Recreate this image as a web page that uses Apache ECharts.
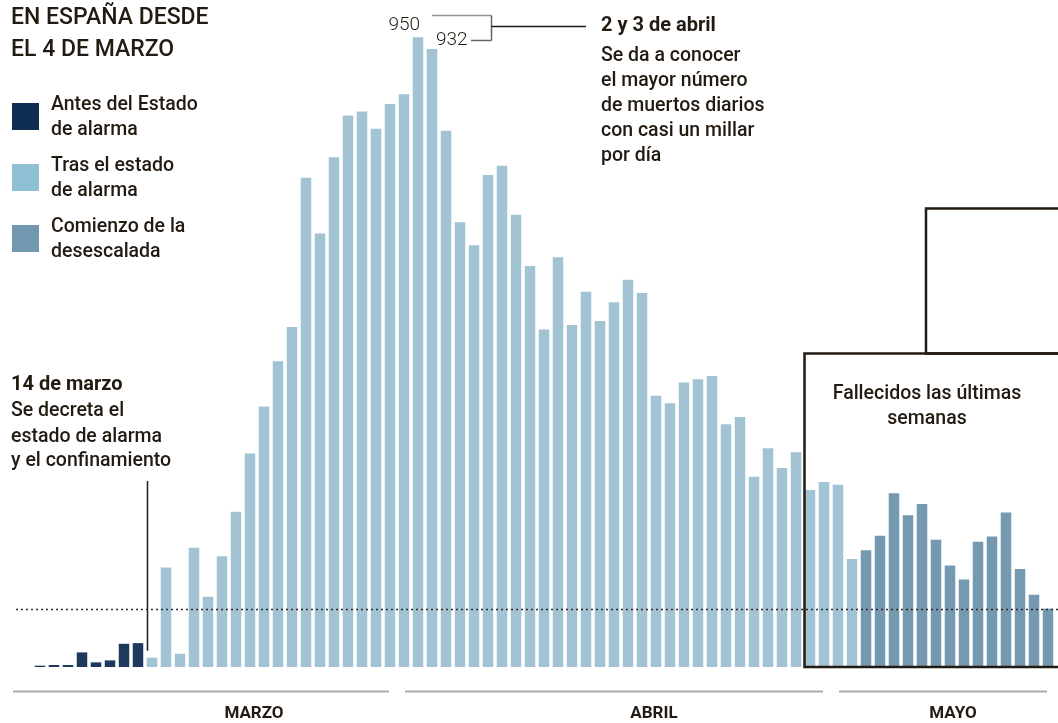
<!DOCTYPE html>
<html>
<head>
<meta charset="utf-8">
<script src="https://cdn.jsdelivr.net/npm/echarts@6/dist/echarts.min.js"></script>
<style>
html,body{margin:0;padding:0;background:#ffffff;}
#chart{width:1058px;height:723px;}
</style>
</head>
<body>
<div id="chart"></div>
<script>
// ---- DATA ----
const marchDays = [6,7,8,9,10,11,12,13,14,15,16,17,18,19,20,21,22,23,24,25,26,27,28,29,30,31];
const aprilDays = [1,2,3,4,5,6,7,8,9,10,11,12,13,14,15,16,17,18,19,20,21,22,23,24,25,26,27,28,29,30];
const mayDays = [1,2,3,4,5,6,7,8,9,10,11,12,13,14,15,16,17];

const deathsMarch = [2,3,3,22,7,10,35,36,14,150,20,180,106,167,234,322,393,461,513,738,654,769,832,838,812,849];
const deathsApril = [864,950,932,809,671,636,742,756,682,605,509,618,516,566,522,550,584,564,409,398,429,434,439,366,377,287,330,300,324,267];
const deathsMay = [279,275,163,176,198,262,229,246,192,153,132,189,197,233,148,109,88];

const monthNames = ['MARZO','ABRIL','MAYO'];
const alarmStart = '14 mar';
const deescalationStart = '4 may';

// ---- BUILD ----
const categories = [].concat(
  marchDays.map(d => d + ' mar'),
  aprilDays.map(d => d + ' abr'),
  mayDays.map(d => d + ' may')
);
const values = [].concat(deathsMarch, deathsApril, deathsMay);
const monthRanges = [
  [0, marchDays.length - 1],
  [marchDays.length, marchDays.length + aprilDays.length],
  [marchDays.length + aprilDays.length + 1, categories.length - 1]
];

const COLOR_BEFORE = '#1d3a5c';
const COLOR_AFTER = '#a1c3d4';
const COLOR_DEESC = '#7499b0';
const INK = '#231a12';
const FONT = "Roboto, 'Liberation Sans', sans-serif";

const iAlarm = categories.indexOf(alarmStart);
const iDeesc = categories.indexOf(deescalationStart);
function colorFor(i) {
  if (i < iAlarm) return COLOR_BEFORE;
  if (i < iDeesc) return COLOR_AFTER;
  return COLOR_DEESC;
}

const chart = echarts.init(document.getElementById('chart'), null, {renderer: 'canvas'});
chart.setOption({
  animation: false,
  grid: {left: 33, right: 3, top: 4, bottom: 56},
  xAxis: {type: 'category', data: categories, show: false},
  yAxis: {type: 'value', min: 0, max: 1000, show: false, splitLine: {show: false}},
  series: [{
    type: 'bar',
    barWidth: 10.5,
    data: values.map((v, i) => ({value: v, itemStyle: {color: colorFor(i)}}))
  }]
});

const cx = i => chart.convertToPixel({xAxisIndex: 0}, categories[i]);
const cy = v => chart.convertToPixel({yAxisIndex: 0}, v);
const step = cx(1) - cx(0);

function txt(text, x, y, size, weight, opts) {
  opts = opts || {};
  return {
    type: 'text', z: 20,
    style: {
      text: text, x: x, y: y,
      font: (weight || '500') + ' ' + size + 'px ' + FONT,
      fill: opts.fill || INK,
      textAlign: opts.align || 'left',
      textVerticalAlign: 'middle'
    }
  };
}
function line(x1, y1, x2, y2, color, w, dash) {
  return {type: 'line', z: 20, shape: {x1: x1, y1: y1, x2: x2, y2: y2},
          style: {stroke: color || INK, lineWidth: w || 1.5, lineDash: dash || null}};
}

const g = [];
// reference level: last day's value
const yLast = Math.round(cy(values[values.length - 1])) + 0.5;
g.push(line(16, yLast, 1058, yLast, '#2e2a27', 1.5, [2, 3]));

// title
g.push(txt('EN ESPAÑA DESDE', 11, 18.6, 23, '500'));
g.push(txt('EL 4 DE MARZO', 11, 50.2, 23, '500'));
// legend
const legendItems = [
  {color: '#0f2d50', lines: ['Antes del Estado', 'de alarma'], y: 103},
  {color: '#8fbfd3', lines: ['Tras el estado', 'de alarma'], y: 164},
  {color: '#7298b0', lines: ['Comienzo de la', 'desescalada'], y: 225}
];
legendItems.forEach(it => {
  g.push({type: 'rect', z: 20, shape: {x: 12, y: it.y, width: 27, height: 27}, style: {fill: it.color}});
  g.push(txt(it.lines[0], 51, it.y + 2, 19.5));
  g.push(txt(it.lines[1], 51, it.y + 26.7, 19.5));
});
// 14 de marzo annotation
g.push(txt('14 de marzo', 11, 384.7, 20, 'bold'));
g.push(txt('Se decreta el', 11, 411.3, 19.5));
g.push(txt('estado de alarma', 11, 437.3, 19.5));
g.push(txt('y el confinamiento', 11, 461.3, 19.5));
const xAl = Math.round(cx(iAlarm)) - 4.5;
g.push(line(xAl, 481, xAl, cy(values[iAlarm]) - 7, INK, 1.5));

// peak annotation
const iPeak = values.indexOf(Math.max.apply(null, values));
const xp = cx(iPeak);
const xb = Math.round(xp + 72.5) + 0.5;
g.push(txt(String(values[iPeak]), xp + 2, 25, 19, '300', {align: 'right'}));
g.push(txt(String(values[iPeak + 1]), xp + 18, 40, 19, '300'));
g.push(line(xp + 14, 15.5, xb, 15.5, '#9a948f', 1.5));
g.push(line(xb, 15.5, xb, 40.5, '#6b645f', 1.5));
g.push(line(xp + 53, 40.5, xb, 40.5, '#6b645f', 1.5));
g.push(line(xb, 26.5, 586, 26.5, INK, 1.5));
g.push(txt('2 y 3 de abril', 601, 25.5, 20, 'bold'));
['Se da a conocer', 'el mayor número', 'de muertos diarios', 'con casi un millar', 'por día']
  .forEach((t, k) => g.push(txt(t, 601, 56 + k * 25, 19.5)));

// boxes
const boxLeft = Math.round((cx(54) + cx(55)) / 2) + 1.5;
const baseY = cy(0);
g.push({type: 'rect', z: 15, shape: {x: boxLeft, y: 353.5, width: 300, height: baseY - 353.5},
        style: {fill: 'none', stroke: INK, lineWidth: 2.5}});
g.push({type: 'rect', z: 15, shape: {x: 926, y: 208.5, width: 200, height: 145},
        style: {fill: 'none', stroke: INK, lineWidth: 2.5}});
g.push(txt('Fallecidos las últimas', 927, 394, 19.5, '500', {align: 'center'}));
g.push(txt('semanas', 927, 419, 19.5, '500', {align: 'center'}));

// month lines and labels
const monthLabelX = [254, 654, 953];
monthRanges.forEach((r, k) => {
  const x1 = (k === 0) ? 13 : cx(r[0]) - step / 2 + 8;
  const x2 = cx(r[1]) + step / 2 - 8;
  g.push(line(x1, 691.5, x2, 691.5, '#b0aba6', 2));
  g.push(txt(monthNames[k], monthLabelX[k], 714, 17, 'bold', {align: 'center'}));
});

chart.setOption({graphic: {elements: g}});
</script>
</body>
</html>
